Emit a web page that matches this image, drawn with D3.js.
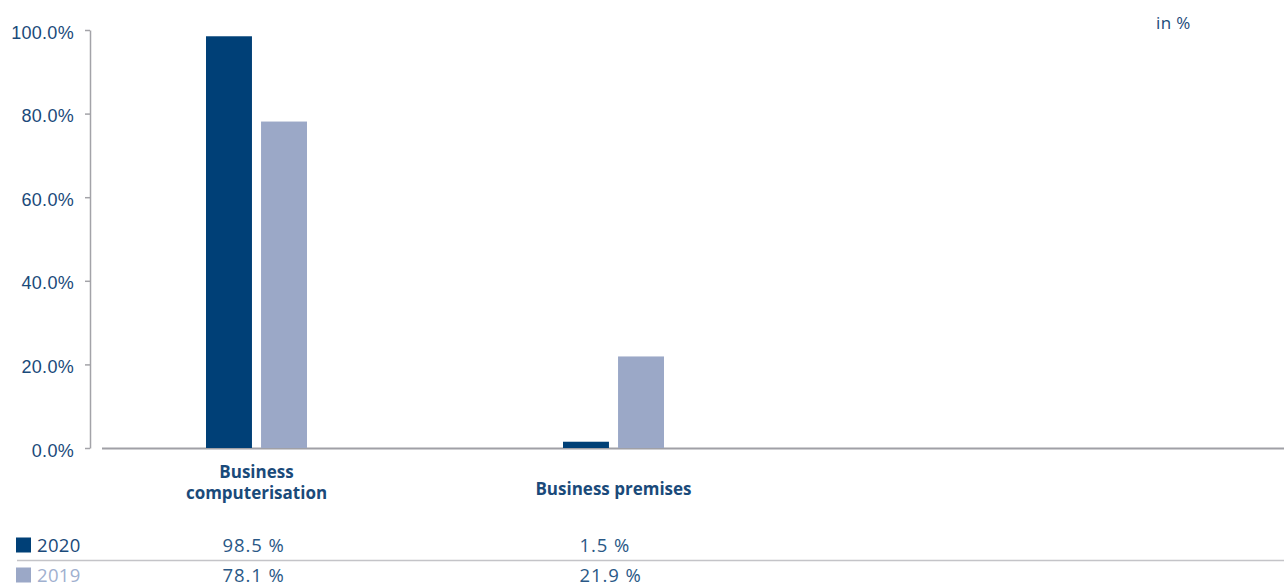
<!DOCTYPE html>
<html>
<head>
<meta charset="utf-8">
<script src="https://cdn.jsdelivr.net/npm/d3@7"></script>
<style>
  body { margin: 0; background: #fff; }
  svg { display: block; font-family: "Open Sans", sans-serif; }
</style>
</head>
<body>
<svg id="chart"></svg>
<script>
// chart values
const categories = ['Business computerisation', 'Business premises'];
const categoryLines = [['Business', 'computerisation'], ['Business premises']];
const years = ['2020', '2019'];
const values2020 = [98.5, 1.5];
const values2019 = [78.1, 21.9];
const yTicks = [0, 20, 40, 60, 80, 100];
const unitLabel = 'in %';

class GroupedBarChart {
	constructor(_config) {
		this.config = {
			parentElement: _config.parentElement,
			containerWidth: _config.containerWidth || 1284,
			containerHeight: _config.containerHeight || 585
		}
		this.initVis();
	}

	initVis() {
		let vis = this;

		vis.colors = { '2020': '#004077', '2019': '#9ba8c7' };
		vis.textColor = '#1a4a7a';

		vis.svg = d3.select(vis.config.parentElement)
			.attr('width', vis.config.containerWidth)
			.attr('height', vis.config.containerHeight);

		vis.yScale = d3.scaleLinear()
			.domain([0, 100])
			.range([448, 30]);

		// one band per category, wide enough for the empty right side
		vis.xScale = d3.scaleBand()
			.domain(categories)
			.range([78, 792]);

		vis.xScaleSubgroup = d3.scaleBand()
			.domain(years)
			.range([-50.5, 50.5])
			.paddingInner(0.165);

		vis.data = categories.map((c, i) => ({
			key: c,
			lines: categoryLines[i],
			values: { '2020': values2020[i], '2019': values2019[i] }
		}));

		vis.renderVis();
	}

	renderVis() {
		let vis = this;

		// y axis
		const yAxis = d3.axisLeft(vis.yScale)
			.tickValues(yTicks)
			.tickFormat(d => d3.format('.1f')(d) + '%')
			.tickSizeInner(5)
			.tickSizeOuter(0)
			.tickPadding(11);

		const yAxisGroup = vis.svg.append('g')
			.attr('transform', 'translate(90,0)')
			.call(yAxis);
		yAxisGroup.select('.domain').attr('stroke', '#a3a3a8').attr('stroke-width', 1.5);
		yAxisGroup.selectAll('.tick line').attr('stroke', '#a3a3a8').attr('stroke-width', 1.5);
		yAxisGroup.selectAll('.tick text')
			.attr('fill', vis.textColor)
			.style('font-size', '18px')
			.style('letter-spacing', '0.3px')
			.attr('dy', '0.45em');

		// baseline
		vis.svg.append('line')
			.attr('x1', 102)
			.attr('x2', vis.config.containerWidth)
			.attr('y1', vis.yScale(0) + 0.5)
			.attr('y2', vis.yScale(0) + 0.5)
			.attr('stroke', '#a0a0a6')
			.attr('stroke-width', 2);

		// bars
		const groups = vis.svg.selectAll('.barGroups')
			.data(vis.data)
			.join('g')
			.attr('class', 'barGroups')
			.attr('transform', d => `translate(${vis.xScale(d.key) + vis.xScale.bandwidth() / 2},0)`);

		groups.selectAll('.bar')
			.data(d => years.map(y => ({ key: y, value: d.values[y] })))
			.join('rect')
			.attr('class', 'bar')
			.attr('x', d => vis.xScaleSubgroup(d.key))
			.attr('y', d => vis.yScale(d.value))
			.attr('width', vis.xScaleSubgroup.bandwidth())
			.attr('height', d => vis.yScale(0) - vis.yScale(d.value))
			.attr('fill', d => vis.colors[d.key]);

		// category labels
		groups.append('text')
			.attr('text-anchor', 'middle')
			.attr('fill', vis.textColor)
			.style('font-size', '17px')
			.style('font-weight', 'bold')
			.selectAll('tspan')
			.data(d => d.lines.map((l, i) => ({ text: l, i: i, n: d.lines.length })))
			.join('tspan')
			.attr('x', 0)
			.attr('y', d => d.n === 1 ? 495 : 478 + d.i * 21)
			.text(d => d.text);

		// unit label
		vis.svg.append('text')
			.attr('x', 1156)
			.attr('y', 29)
			.attr('fill', vis.textColor)
			.style('font-size', '17px')
			.style('letter-spacing', '0.4px')
			.text(unitLabel);

		// data table under the chart
		const rowY = [552, 582];
		vis.svg.append('line')
			.attr('x1', 17)
			.attr('x2', vis.config.containerWidth)
			.attr('y1', 560.5)
			.attr('y2', 560.5)
			.attr('stroke', '#c4c4c8')
			.attr('stroke-width', 1.5);

		years.forEach((y, r) => {
			vis.svg.append('rect')
				.attr('x', 16)
				.attr('y', rowY[r] - 14.5)
				.attr('width', 15)
				.attr('height', 15)
				.attr('fill', vis.colors[y]);

			vis.svg.append('text')
				.attr('x', 37)
				.attr('y', rowY[r])
				.attr('fill', r === 0 ? vis.textColor : '#9fb0cf')
				.style('font-size', '18.5px')
				.style('letter-spacing', '0.3px')
				.text(y);

			vis.svg.selectAll('.val' + y)
				.data(vis.data)
				.join('text')
				.attr('class', 'val' + y)
				.attr('x', d => vis.xScale(d.key) + vis.xScale.bandwidth() / 2 - 34)
				.attr('y', rowY[r])
				.attr('fill', '#2a5886')
				.style('font-size', '18.5px')
				.style('letter-spacing', '0.9px')
				.text(d => d3.format('.1f')(d.values[y]) + ' %');
		});
	}
}

new GroupedBarChart({ parentElement: '#chart' });
</script>
</body>
</html>
